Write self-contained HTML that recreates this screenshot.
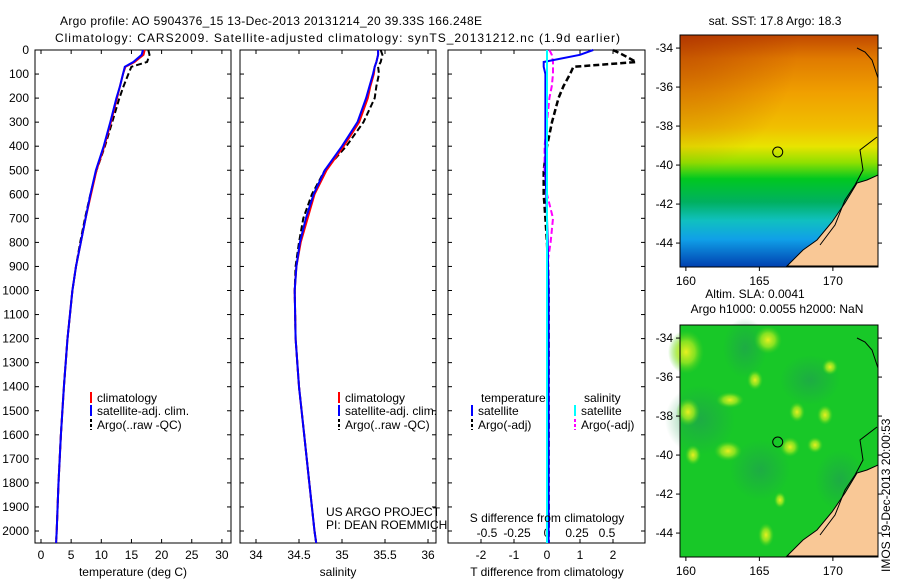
<!DOCTYPE html>
<html><head><meta charset="utf-8"><style>
body{margin:0;background:#fff;}
svg{display:block;font-family:"Liberation Sans",sans-serif;}
text{font-size:12px;fill:#000;}
</style></head><body>
<svg id="fig" width="900" height="580" viewBox="0 0 900 580">
<defs>
<linearGradient id="sst" x1="0" y1="0" x2="0" y2="1">
<stop offset="0" stop-color="#c04800"/><stop offset="0.1" stop-color="#e07a00"/><stop offset="0.25" stop-color="#f0a000"/>
<stop offset="0.4" stop-color="#f0c000"/><stop offset="0.48" stop-color="#e8e400"/><stop offset="0.55" stop-color="#90e000"/>
<stop offset="0.62" stop-color="#00c820"/><stop offset="0.72" stop-color="#00b060"/><stop offset="0.8" stop-color="#10c0c0"/>
<stop offset="0.88" stop-color="#10a0e8"/><stop offset="1" stop-color="#0040b0"/>
</linearGradient>
<radialGradient id="sstx" cx="0" cy="0" r="0.6"><stop offset="0" stop-color="#a02000" stop-opacity="0.45"/><stop offset="1" stop-color="#a02000" stop-opacity="0"/></radialGradient>
<radialGradient id="blob"><stop offset="0" stop-color="#e8f020"/><stop offset="0.5" stop-color="#a0e820" stop-opacity="0.8"/><stop offset="1" stop-color="#40d020" stop-opacity="0"/></radialGradient>
<radialGradient id="dblob"><stop offset="0" stop-color="#20a050" stop-opacity="0.7"/><stop offset="1" stop-color="#20a050" stop-opacity="0"/></radialGradient>
</defs>
<text x="60" y="25" textLength="422" font-size="14">Argo profile: AO 5904376_15 13-Dec-2013 20131214_20 39.33S 166.248E</text>
<text x="55" y="42" textLength="565" font-size="14">Climatology: CARS2009. Satellite-adjusted climatology: synTS_20131212.nc (1.9d earlier)</text>
<g id="panels"></g>
<g id="maps"></g>
<text transform="translate(890,572) rotate(-90)" font-size="12">IMOS 19-Dec-2013 20:00:53</text>
</svg>
<script>
const depths=[0,20,50,70,100,150,200,300,400,500,600,700,800,900,1000,1200,1400,1600,1800,2000,2050];
const tempClim=[17.2,17.0,15.5,14.0,13.6,13.1,12.6,11.6,10.5,9.2,8.3,7.4,6.6,5.8,5.2,4.4,3.8,3.3,2.9,2.6,2.5];
const tempSat=[16.9,16.7,15.3,13.9,13.6,13.1,12.5,11.5,10.4,9.1,8.2,7.4,6.6,5.8,5.2,4.4,3.8,3.3,2.9,2.6,2.5];
const tempArgo=[17.8,18.0,17.6,15.0,14.5,13.7,13.0,11.8,10.6,9.2,8.2,7.3,6.5,5.8,5.2,4.4,3.8,3.3,2.9,2.6,2.5];
const salClim=[35.42,35.42,35.4,35.38,35.37,35.33,35.3,35.2,35.02,34.82,34.68,34.6,34.52,34.47,34.45,34.46,34.5,34.56,34.62,34.68,34.7];
const salSat=[35.42,35.42,35.4,35.38,35.36,35.32,35.28,35.18,35.0,34.8,34.67,34.58,34.51,34.47,34.45,34.46,34.5,34.56,34.62,34.68,34.7];
const salArgo=[35.45,35.47,35.45,35.42,35.43,35.4,35.38,35.25,35.05,34.8,34.65,34.55,34.5,34.46,34.45,34.46,34.5,34.56,34.62,34.68,34.7];
const tdSat=[1.4,1.0,-0.1,-0.1,-0.05,-0.05,-0.05,-0.05,-0.05,-0.05,-0.02,0.0,0.02,0.03,0.05,0.05,0.05,0.05,0.05,0.05,0.05];
const tdArgo=[2.0,2.3,2.7,0.8,0.7,0.5,0.35,0.15,0.0,-0.1,-0.1,-0.05,0.0,0.03,0.05,0.05,0.05,0.05,0.05,0.05,0.05];
const sdSat=[0.0,0.0,0.0,0.0,0.0,0.0,0.0,0.0,0.0,0.0,0.0,0.0,0.0,0.0,0.0,0.0,0.0,0.0,0.0,0.0,0.0];
const sdArgo=[0.02,0.04,0.05,0.05,0.05,0.04,0.02,0.0,-0.02,-0.02,0.0,0.05,0.03,0.0,0.0,0.0,0.0,0.0,0.0,0.0,0.0];
const depthTicks=[0,100,200,300,400,500,600,700,800,900,1000,1100,1200,1300,1400,1500,1600,1700,1800,1900,2000];
const tTicks=[0,5,10,15,20,25,30];
const sTicks=[34,34.5,35,35.5,36];
const tdTicks=[-2,-1,0,1,2];
const sdTicks=[-0.5,-0.25,0,0.25,0.5];
const sdTickLabels=["-0.5","-0.25","0","0.25","0.5"];
const lonTicks=[160,165,170];
const latTicks=[-34,-36,-38,-40,-42,-44];

const NS='http://www.w3.org/2000/svg';
function mk(p,t,a){const e=document.createElementNS(NS,t);for(const k in a)e.setAttribute(k,a[k]);p.appendChild(e);return e;}
const P=document.getElementById('panels');
const yD=d=>50+d*0.2405;
const PT=50,PB=543;
function frame(x0,x1,name){
 const r=mk(P,'rect',{x:x0,y:PT,width:x1-x0,height:PB-PT,fill:'none',stroke:'#000'});
 
 
}
function xtick(x,lab,y){mk(P,'line',{x1:x,x2:x,y1:PB,y2:PB-4,stroke:'#000'});mk(P,'line',{x1:x,x2:x,y1:PT,y2:PT+4,stroke:'#000'});
 const t=mk(P,'text',{x:x,y:y,'text-anchor':'middle'});t.textContent=lab;
 
 }
function line(vals,fx,color,w,dash,name){
 const d=vals.map((v,i)=>(i?'L':'M')+fx(v).toFixed(1)+','+yD(depths[i]).toFixed(1)).join('');
 const p=mk(P,'path',{d:d,fill:'none',stroke:color,'stroke-width':w});
 if(dash)p.setAttribute('stroke-dasharray',dash);
 
 
}
function legendItem(x,y,color,dash,lab){
 const l=mk(P,'line',{x1:x,x2:x,y1:y-10,y2:y+1,stroke:color,'stroke-width':2});
 if(dash)l.setAttribute('stroke-dasharray',dash);
 const t=mk(P,'text',{x:x+6,y:y,'font-size':'11.5'});t.textContent=lab;
 
 
}
// panel 1
const xT=v=>41+v*6.03;
frame(35,231,'temperature-panel');
depthTicks.forEach(d=>{mk(P,'line',{x1:35,x2:39,y1:yD(d),y2:yD(d),stroke:'#000'});mk(P,'line',{x1:231,x2:227,y1:yD(d),y2:yD(d),stroke:'#000'});
 const t=mk(P,'text',{x:29,y:yD(d)+4,'text-anchor':'end'});t.textContent=d;
 
 });
tTicks.forEach(v=>xtick(xT(v),v,559));
line(tempArgo,xT,'#000',2,'6,3','temp-argo-line');
line(tempClim,xT,'#f00',2,null,'temp-clim-line');
line(tempSat,xT,'#00f',2,null,'temp-sat-line');
legendItem(91,402,'#f00',null,'climatology');legendItem(91,415,'#00f',null,'satellite-adj. clim.');legendItem(91,429,'#000','3,2','Argo(..raw -QC)');
mk(P,'text',{x:133,y:576,'text-anchor':'middle'}).textContent='temperature (deg C)';
// panel 2
const xS=v=>256+(v-34)*86;
frame(240,436,'salinity-panel');
depthTicks.forEach(d=>{mk(P,'line',{x1:240,x2:244,y1:yD(d),y2:yD(d),stroke:'#000'});mk(P,'line',{x1:436,x2:432,y1:yD(d),y2:yD(d),stroke:'#000'});});
sTicks.forEach(v=>xtick(xS(v),v,559));
line(salArgo,xS,'#000',2,'6,3','sal-argo-line');
line(salClim,xS,'#f00',2,null,'sal-clim-line');
line(salSat,xS,'#00f',2,null,'sal-sat-line');
legendItem(339,402,'#f00',null,'climatology');legendItem(339,415,'#00f',null,'satellite-adj. clim.');legendItem(339,429,'#000','3,2','Argo(..raw -QC)');
mk(P,'text',{x:338,y:576,'text-anchor':'middle'}).textContent='salinity';
mk(P,'text',{x:326,y:516}).textContent='US ARGO PROJECT';
mk(P,'text',{x:326,y:529}).textContent='PI: DEAN ROEMMICH';
// panel 3
const xTD=v=>547+v*33;
const xSD=v=>547+v*120;
frame(448,645,'difference-panel');
depthTicks.forEach(d=>{mk(P,'line',{x1:448,x2:452,y1:yD(d),y2:yD(d),stroke:'#000'});mk(P,'line',{x1:645,x2:641,y1:yD(d),y2:yD(d),stroke:'#000'});});
tdTicks.forEach(v=>xtick(xTD(v),v,559));
sdTicks.forEach((v,i)=>{const t=mk(P,'text',{x:xSD(v),y:537,'text-anchor':'middle'});t.textContent=sdTickLabels[i];
 
 });
mk(P,'line',{x1:xTD(0),x2:xTD(0),y1:PT,y2:PB,stroke:'#000','stroke-dasharray':'1,3'});
line(tdArgo,xTD,'#000',2.5,'6,3','tdiff-argo-line');
line(sdArgo,xSD,'#f0f',2,'6,3','sdiff-argo-line');
line(tdSat,xTD,'#00f',2,null,'tdiff-sat-line');
line(sdSat,xSD,'#0ff',2,null,'sdiff-sat-line');
mk(P,'text',{x:481,y:402}).textContent='temperature';
mk(P,'text',{x:584,y:402}).textContent='salinity';
legendItem(472,415,'#00f',null,'satellite');legendItem(472,429,'#000','3,2','Argo(-adj)');
legendItem(575,415,'#0ff',null,'satellite');legendItem(575,429,'#f0f','3,2','Argo(-adj)');
mk(P,'text',{x:547,y:522,'text-anchor':'middle'}).textContent='S difference from climatology';
mk(P,'text',{x:547,y:576,'text-anchor':'middle'}).textContent='T difference from climatology';

// maps
const M=document.getElementById('maps');
const mx=lon=>680+(lon-159.6)*14.7;
function map(y0,fill,name,t1,t2){
 const g=mk(M,'g',{});
 
 
 const my=lat=>y0+(-33.33-lat)*19.5;
 mk(g,'rect',{x:680,y:y0,width:198,height:232,fill:fill});
 if(name==='sst-map'){mk(g,'rect',{x:680,y:y0,width:198,height:232,fill:'url(#sstx)'});}
 if(name==='sla-map'){
  [[745,348,22,30],[700,420,35,35],[760,470,30,30],[810,380,30,25],[840,480,25,30]].forEach(b=>mk(g,'ellipse',{cx:b[0],cy:b[1],rx:b[2],ry:b[3],fill:'url(#dblob)'}));
  [[686,352,18,22],[688,412,12,14],[768,340,14,14],[755,380,8,10],[730,400,14,8],[797,412,8,10],[825,415,8,10],[728,451,14,10],[790,447,10,10],[693,455,8,10],[830,367,8,8],[780,500,6,8],[815,445,8,8],[766,535,8,12]].forEach(b=>mk(g,'ellipse',{cx:b[0],cy:b[1],rx:b[2],ry:b[3],fill:'url(#blob)'}));
 }
 const k=y0-35;
 mk(g,'path',{d:`M787,${266+k} L803,${250+k} L817,${240+k} L832,${222+k} L845,${203+k} L857,${183+k} L867,${180+k} L878,${175+k} L878,${266+k} Z`,fill:'#f9c896',stroke:'#000'});
 mk(g,'path',{d:`M877,${137+k} L860,${150+k} L863,${170+k} L855,${185+k} L845,${200+k} L835,${225+k} L820,${245+k}`,fill:'none',stroke:'#000'});
 mk(g,'path',{d:`M857,${48+k} L865,${52+k} L872,${60+k} L878,${78+k}`,fill:'none',stroke:'#000'});
 mk(g,'circle',{cx:mx(166.248),cy:my(-39.33),r:5,fill:'none',stroke:'#000'});
 mk(g,'rect',{x:680,y:y0,width:198,height:232,fill:'none',stroke:'#000'});
 lonTicks.forEach(l=>{mk(g,'line',{x1:mx(l),x2:mx(l),y1:y0+232,y2:y0+236,stroke:'#000'});
  const t=mk(g,'text',{x:mx(l),y:y0+250,'text-anchor':'middle'});t.textContent=l;
  
  });
 latTicks.forEach(l=>{mk(g,'line',{x1:676,x2:680,y1:my(l),y2:my(l),stroke:'#000'});mk(g,'line',{x1:878,x2:882,y1:my(l),y2:my(l),stroke:'#000'});
  const t=mk(g,'text',{x:673,y:my(l)+4,'text-anchor':'end'});t.textContent=l;
  
  });
 if(t1&&!t2){const t=mk(g,'text',{x:775,y:y0-10,'text-anchor':'middle'});t.textContent=t1;}
 if(t2){mk(g,'text',{x:755,y:y0-27,'text-anchor':'middle'}).textContent=t1;
  mk(g,'text',{x:777,y:y0-12,'text-anchor':'middle'}).textContent=t2;}
}
map(35,'url(#sst)','sst-map','sat. SST: 17.8 Argo: 18.3',null);
map(325,'#18c828','sla-map','Altim. SLA: 0.0041','Argo h1000: 0.0055 h2000: NaN');
</script>
</body></html>
